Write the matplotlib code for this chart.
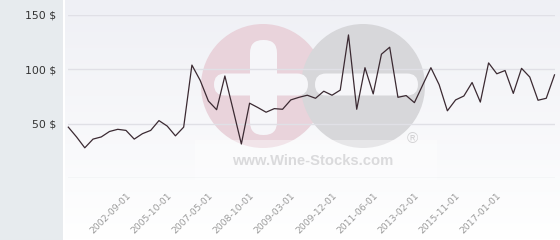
import numpy as np
import matplotlib
matplotlib.use("Agg")
import matplotlib.pyplot as plt
from matplotlib.patches import Rectangle, Circle, FancyBboxPatch

# price per bottle, one value per listing
prices = [47, 38, 28, 36, 38, 43, 45, 44, 36, 41,
          44, 53, 48, 39, 47, 104, 90, 71, 63, 94,
          63, 31.5, 69, 65, 60.7, 64, 63.4, 72, 74.4, 76.3,
          73.5, 80, 76.3, 81, 131.7, 63.4, 101.6, 77.5, 114, 120.4,
          74.4, 76, 69.5, 85.6, 101.6, 86, 62, 72, 75.6, 88,
          70, 106, 96, 99, 78, 101, 93, 71.7, 73.5, 95]
tick_labels = ['2002-09-01', '2005-10-01', '2007-05-01', '2008-10-01', '2009-03-01',
               '2009-12-01', '2011-06-01', '2013-02-01', '2015-11-01', '2017-01-01']
tick_index = [7, 12, 17, 22, 27, 32, 37, 42, 47, 52]
y_ticks = [0, 50, 100, 150]

W, H = 560, 240
fig = plt.figure(figsize=(W / 100, H / 100), dpi=100)
fig.patch.set_facecolor('white')

# background layer in pixel coords
bg = fig.add_axes([0, 0, 1, 1], zorder=0)
bg.set_xlim(0, W)
bg.set_ylim(H, 0)
bg.axis('off')

grad = np.linspace(0, 1, 200)[:, None]
top = np.array([239, 240, 245]) / 255
bot = np.array([255, 255, 255]) / 255
img = top + (bot - top) * grad[..., None]
bg.imshow(img, extent=(64, W, H, 0), aspect='auto', interpolation='bilinear')
bg.add_patch(Rectangle((0, 0), 63, H, color='#e7ebee', lw=0))
bg.plot([63.5, 63.5], [0, H], color='white', lw=1.5)

# watermark
bg.add_patch(Circle((263, 86), 62, color='#e9d3db', lw=0))
bg.add_patch(Circle((363, 86), 62, color='#d7d7da', lw=0))
bg.add_patch(FancyBboxPatch((250, 40), 27, 95, boxstyle='round,pad=0,rounding_size=13',
                            color='#f6f6f9', lw=0))
bg.add_patch(FancyBboxPatch((214, 73.5), 94, 22, boxstyle='round,pad=0,rounding_size=11',
                            color='#f6f6f9', lw=0))
bg.add_patch(FancyBboxPatch((315, 73.5), 103, 22, boxstyle='round,pad=0,rounding_size=11',
                            color='#f6f6f9', lw=0))
bg.add_patch(Rectangle((195, 140), 242, 40, color='white', alpha=0.4, lw=0))
bg.text(312.5, 161, 'www.Wine-Stocks.com', ha='center', va='center',
        fontsize=10.6, fontweight='bold', family='Liberation Sans', color='#dadadc')
bg.text(412, 139, '®', ha='center', va='center', fontsize=11,
        family='Liberation Sans', color='#d2d2d4')

# main chart
ax = fig.add_axes([68.3 / W, 61.7 / H, 486.2 / W, 163.3 / H], zorder=2)
ax.set_facecolor('none')
x = np.arange(len(prices))
ax.plot(x, prices, color='#3b2a32', lw=0.9, clip_on=False)
ax.set_xlim(0, len(prices) - 1)
ax.set_ylim(0, 150)

ax.set_yticks(y_ticks)
ax.set_yticklabels(['' if v == 0 else f'{v} $' for v in y_ticks])
ax.yaxis.grid(True, color='#e0e0e6', lw=1)
ax.tick_params(axis='y', length=0, pad=9, labelsize=7.8, labelcolor='#333333')

ax.set_xticks(tick_index)
ax.set_xticklabels(tick_labels, rotation=45, ha='right', va='top',
                   rotation_mode='anchor', fontsize=6.7, color='#9a9a9a')
ax.tick_params(axis='x', length=0, pad=9)
for lbl in ax.get_xticklabels():
    lbl.set_x(lbl.get_position()[0])
for s in ax.spines.values():
    s.set_visible(False)
ax.set_axisbelow(True)

fig.savefig('out.png', dpi=100)
